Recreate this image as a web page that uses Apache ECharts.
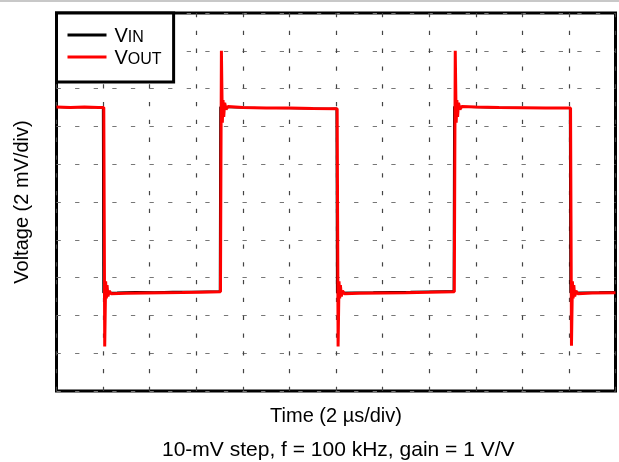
<!DOCTYPE html>
<html>
<head>
<meta charset="utf-8">
<script src="https://cdn.jsdelivr.net/npm/echarts/dist/echarts.min.js"></script>
<style>
html, body { margin: 0; padding: 0; background: #fff; }
#chart { width: 619px; height: 462px; }
</style>
</head>
<body>
<div id="chart"></div>
<script>
// time in us, voltage in mV (2 us/div, 2 mV/div)
var vinPoints = [
    [0, 15.03], [0.5, 15.0], [1.0, 15.03], [1.5, 15.0], [1.99, 15.02],
    [2.01, 5.2], [2.6, 5.21], [3.4, 5.24], [4.2, 5.22], [5.0, 5.25], [5.8, 5.25], [6.5, 5.27], [7.01, 5.28],
    [7.03, 15.02], [7.8, 15.0], [8.6, 14.98], [9.4, 14.97], [10.2, 14.96], [11.0, 14.95], [11.7, 14.94], [12.02, 14.95],
    [12.04, 5.2], [12.8, 5.21], [13.6, 5.22], [14.4, 5.24], [15.2, 5.25], [16.0, 5.27], [16.7, 5.28], [17.05, 5.28],
    [17.07, 15.04], [17.8, 15.02], [18.6, 15.0], [19.4, 14.99], [20.2, 14.98], [21.0, 14.97], [21.6, 14.97], [22.04, 14.98],
    [22.06, 5.2], [22.6, 5.21], [23.3, 5.22], [24, 5.24]
];
var voutPoints = [
    [0, 15.02], [0.6, 15.0], [1.2, 15.02], [1.8, 15.0], [2.03, 15.0],
    [2.05, 9.0], [2.07, 2.35], [2.09, 2.4], [2.11, 5.8], [2.14, 4.9], [2.17, 5.6], [2.21, 5.0], [2.26, 5.3], [2.34, 5.15],
    [3.0, 5.17], [3.8, 5.19], [4.6, 5.2], [5.4, 5.21], [6.2, 5.23], [7.04, 5.25],
    [7.06, 12.0], [7.08, 18.0], [7.10, 17.9], [7.12, 14.2], [7.15, 15.4], [7.18, 14.5], [7.22, 15.25], [7.28, 14.9], [7.36, 15.05],
    [8.0, 15.0], [9.0, 14.98], [10.0, 14.97], [11.0, 14.95], [12.05, 14.94],
    [12.07, 9.0], [12.09, 2.35], [12.11, 2.4], [12.13, 5.8], [12.16, 4.9], [12.19, 5.6], [12.23, 5.0], [12.28, 5.3], [12.36, 5.15],
    [13.0, 5.17], [14.0, 5.19], [15.0, 5.2], [16.0, 5.22], [17.08, 5.25],
    [17.10, 12.0], [17.12, 18.0], [17.14, 17.9], [17.16, 14.2], [17.19, 15.4], [17.22, 14.5], [17.26, 15.25], [17.32, 14.9], [17.40, 15.05],
    [18.0, 15.02], [19.0, 15.0], [20.0, 14.99], [21.0, 14.98], [22.07, 14.97],
    [22.09, 9.0], [22.11, 2.4], [22.13, 2.45], [22.15, 5.8], [22.18, 4.9], [22.21, 5.6], [22.25, 5.0], [22.30, 5.3], [22.38, 5.15],
    [23.0, 5.18], [24.0, 5.2]
];
var seriesNames = ['VIN', 'VOUT'];
var seriesColors = ['#000000', '#ff0000'];
var xTitle = 'Time (2 \u00b5s/div)';
var yTitle = 'Voltage (2 mV/div)';
var caption = '10-mV step, f = 100 kHz, gain = 1 V/V';

var font = '"Liberation Sans", Arial, sans-serif';
var chart = echarts.init(document.getElementById('chart'));

chart.setOption({
    animation: false,
    title: {
        text: caption,
        left: 162,
        top: 440,
        padding: 0,
        textStyle: { fontSize: 21, fontWeight: 'normal', color: '#000', fontFamily: font }
    },
    graphic: [{
        type: 'line',
        shape: { x1: 0, y1: 1, x2: 619, y2: 1 },
        style: { stroke: '#c8c8c8', lineWidth: 2 }
    }],
    legend: {
        data: seriesNames,
        orient: 'vertical',
        align: 'left',
        left: 56.5,
        top: 13,
        padding: [13, 12, 14, 11],
        itemGap: 2,
        itemWidth: 39,
        itemHeight: 3,
        icon: 'rect',
        selectedMode: false,
        backgroundColor: '#fff',
        borderColor: '#000',
        borderWidth: 3,
        formatter: function(name) {
            return '{v|V}{s|' + name.slice(1) + '}';
        },
        textStyle: {
            fontFamily: font,
            fontSize: 20,
            color: '#000',
            rich: {
                v: { fontSize: 20, lineHeight: 22, verticalAlign: 'bottom', padding: [0, 0, 0, 3], fontFamily: font },
                s: { fontSize: 16, lineHeight: 15, verticalAlign: 'bottom', fontFamily: font }
            }
        }
    },
    grid: {
        left: 56.5,
        top: 13,
        right: 3.5,
        bottom: 71,
        show: true,
        borderColor: '#000',
        borderWidth: 3,
        backgroundColor: '#fff'
    },
    xAxis: {
        type: 'value',
        min: 0,
        max: 24,
        interval: 2,
        name: xTitle,
        nameLocation: 'middle',
        nameGap: 15,
        nameTextStyle: { fontSize: 20, color: '#000', fontFamily: font },
        axisLine: { show: false },
        axisTick: { show: false },
        axisLabel: { show: false },
        splitLine: {
            show: true,
            lineStyle: { color: '#444', width: 1.2, type: [4.3, 13.5] }
        }
    },
    yAxis: {
        type: 'value',
        min: 0,
        max: 20,
        interval: 2,
        name: yTitle,
        nameLocation: 'middle',
        nameGap: 24,
        nameTextStyle: { fontSize: 20, color: '#000', fontFamily: font },
        axisLine: { show: false },
        axisTick: { show: false },
        axisLabel: { show: false },
        splitLine: {
            show: true,
            lineStyle: { color: '#777', width: 1.2, type: [4.3, 14.3] }
        }
    },
    series: [{
        name: seriesNames[0],
        type: 'line',
        data: vinPoints,
        showSymbol: false,
        symbol: 'none',
        color: seriesColors[0],
        lineStyle: { width: 2, color: seriesColors[0] }
    }, {
        name: seriesNames[1],
        type: 'line',
        data: voutPoints,
        showSymbol: false,
        symbol: 'none',
        color: seriesColors[1],
        lineStyle: { width: 3, color: seriesColors[1] }
    }]
});
</script>
</body>
</html>
